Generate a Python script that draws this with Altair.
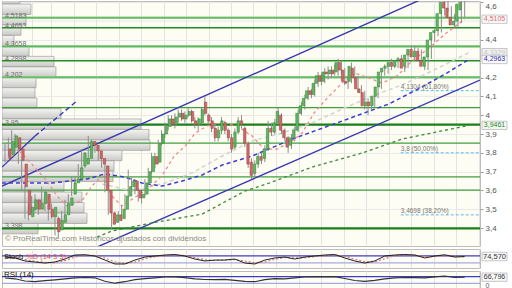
import altair as alt
import pandas as pd

# ---------------- candles ----------------
opens = [3.82,3.79,3.83,3.88,3.82,3.74,3.60,3.46,3.50,3.55,
         3.50,3.53,3.58,3.50,3.46,3.45,3.39,3.43,3.47,3.52,
         3.58,3.64,3.66,3.73,3.74,3.77,3.86,3.84,3.81,3.77,
         3.73,3.60,3.48,3.43,3.47,3.45,3.50,3.57,3.62,3.65,
         3.60,3.56,3.58,3.64,3.70,3.78,3.75,3.85,3.90,3.94,
         3.98,3.95,3.99,4.01,3.98,4.00,4.02,3.97,3.95,3.96,
         4.07,4.00,3.97,3.93,3.88,3.92,3.96,3.92,3.88,3.83,
         3.91,3.97,3.93,3.85,3.75,3.69,3.74,3.78,3.77,3.82,
         3.93,3.91,3.96,4.00,3.92,3.88,3.84,3.88,3.92,4.01,
         4.05,4.09,4.13,4.11,4.17,4.21,4.18,4.23,4.22,4.24,
         4.23,4.28,4.24,4.18,4.18,4.25,4.20,4.14,4.12,4.05,
         4.07,4.05,4.10,4.15,4.23,4.25,4.26,4.28,4.26,4.29,
         4.30,4.26,4.32,4.35,4.31,4.34,4.29,4.26,4.31,4.40,
         4.44,4.45,4.54,4.60,4.57,4.52,4.48,4.50,4.56]
closes = [3.77,3.86,3.89,3.82,3.76,3.62,3.47,3.51,3.55,3.50,
          3.53,3.59,3.50,3.46,3.51,3.38,3.44,3.47,3.53,3.56,
          3.64,3.66,3.72,3.80,3.77,3.86,3.84,3.81,3.77,3.74,
          3.60,3.48,3.42,3.47,3.44,3.50,3.57,3.62,3.65,3.60,
          3.56,3.58,3.64,3.70,3.78,3.74,3.85,3.90,3.94,3.98,
          3.95,3.99,4.01,3.98,4.00,4.02,3.97,3.95,3.98,4.03,
          4.01,3.97,3.93,3.88,3.92,3.97,3.92,3.88,3.82,3.91,
          3.97,3.95,3.85,3.74,3.68,3.74,3.78,3.76,3.82,3.93,
          3.91,3.96,4.02,3.92,3.88,3.83,3.88,3.92,4.01,4.05,
          4.09,4.13,4.11,4.17,4.21,4.18,4.23,4.22,4.24,4.22,
          4.28,4.24,4.18,4.17,4.26,4.20,4.14,4.12,4.05,4.07,
          4.05,4.10,4.15,4.23,4.25,4.26,4.28,4.26,4.29,4.30,
          4.25,4.32,4.35,4.31,4.34,4.29,4.26,4.31,4.40,4.44,
          4.45,4.54,4.60,4.57,4.52,4.48,4.50,4.59,4.60]
highs = [3.85,3.88,3.92,3.90,3.84,3.76,3.63,3.53,3.57,3.58,
         3.55,3.62,3.60,3.52,3.53,3.47,3.46,3.49,3.55,3.58,
         3.67,3.67,3.74,3.82,3.78,3.89,3.87,3.85,3.82,3.78,
         3.74,3.61,3.50,3.49,3.49,3.52,3.58,3.71,3.67,3.66,
         3.61,3.60,3.66,3.72,3.80,3.80,3.87,3.92,3.96,4.00,
         4.00,4.01,4.03,4.03,4.02,4.04,4.03,3.99,3.99,4.04,
         4.10,4.01,3.99,3.96,3.94,3.99,3.97,3.93,3.90,3.93,
         3.99,4.00,3.94,3.86,3.77,3.76,3.80,3.80,3.84,3.97,
         3.96,3.98,4.04,4.01,3.93,3.89,3.90,3.94,4.03,4.07,
         4.11,4.15,4.14,4.19,4.23,4.22,4.25,4.26,4.26,4.27,
         4.30,4.29,4.25,4.21,4.28,4.26,4.21,4.16,4.13,4.09,
         4.09,4.12,4.17,4.25,4.27,4.28,4.30,4.29,4.31,4.32,
         4.31,4.34,4.37,4.37,4.36,4.35,4.30,4.33,4.42,4.46,
         4.47,4.56,4.62,4.62,4.58,4.54,4.52,4.61,4.62]
lows = [3.75,3.78,3.81,3.80,3.74,3.60,3.45,3.44,3.48,3.49,
        3.47,3.52,3.49,3.44,3.45,3.36,3.35,3.40,3.45,3.50,
        3.57,3.60,3.64,3.72,3.72,3.76,3.82,3.80,3.76,3.72,
        3.59,3.47,3.39,3.42,3.43,3.44,3.49,3.56,3.60,3.58,
        3.54,3.53,3.57,3.63,3.69,3.72,3.74,3.84,3.88,3.92,
        3.94,3.93,3.96,3.97,3.96,3.99,3.96,3.93,3.92,3.95,
        4.00,3.95,3.91,3.86,3.86,3.90,3.90,3.86,3.80,3.82,
        3.90,3.93,3.83,3.72,3.66,3.67,3.72,3.74,3.75,3.81,
        3.89,3.90,3.95,3.90,3.86,3.80,3.82,3.86,3.91,4.00,
        4.03,4.08,4.09,4.10,4.15,4.16,4.17,4.19,4.20,4.21,
        4.21,4.22,4.16,4.14,4.17,4.18,4.12,4.10,4.03,4.00,
        4.03,4.04,4.09,4.14,4.21,4.22,4.24,4.25,4.25,4.27,
        4.23,4.25,4.31,4.29,4.30,4.28,4.24,4.24,4.30,4.39,
        4.42,4.44,4.53,4.55,4.50,4.46,4.46,4.49,4.52]

# ---------------- moving averages (index, price) ----------------
ma_pink_i = [4.2, 8.1, 12.6, 15.6, 18.6, 23.1, 26.1, 29.1, 32.1, 35.1, 39.6, 43.2, 47.1, 50.8, 54.1,
             57.1, 60.7, 65.2, 69.7, 74.2, 77.8, 81.7, 86.2, 89.2, 92.8, 96.7, 101.2, 105.1, 109.3,
             113.2, 117.7, 122.2, 127.3, 132.1, 138.1]
ma_pink_v = [3.810, 3.740, 3.650, 3.570, 3.517, 3.544, 3.623, 3.677, 3.570, 3.517, 3.570, 3.613, 3.677,
             3.783, 3.836, 3.905, 3.943, 3.959, 3.943, 3.889, 3.820, 3.820, 3.863, 3.905, 4.012, 4.091,
             4.171, 4.224, 4.198, 4.171, 4.209, 4.288, 4.357, 4.432, 4.5105]
ma_gray_i = [29.1, 38.1, 48.0, 56.2, 65.2, 74.2, 83.2, 92.2, 101.2, 110.2, 119.2, 128.2, 139.3]
ma_gray_v = [3.634, 3.597, 3.639, 3.693, 3.783, 3.863, 3.905, 3.959, 4.033, 4.102, 4.161, 4.235, 4.3329]
ma_blue_i = [-0.9, 14.1, 24.6, 30.0, 36.0, 41.1, 47.1, 53.2, 59.2, 65.2, 74.2, 87.1, 101.2, 115.3,
             125.2, 132.6, 139.3]
ma_blue_v = [3.639, 3.639, 3.661, 3.687, 3.671, 3.639, 3.623, 3.650, 3.682, 3.735, 3.783, 3.879,
             3.969, 4.060, 4.150, 4.224, 4.2963]
ma_green_i = [27.6, 32.1, 44.1, 59.2, 72.1, 79.3, 92.2, 107.2, 119.2, 139.3]
ma_green_v = [3.352, 3.384, 3.427, 3.474, 3.597, 3.639, 3.724, 3.799, 3.873, 3.9461]

# ---------------- trend lines ----------------
trend_seg = ["upper", "upper", "lower", "lower", "steep", "steep"]
trend_i = [-0.9, 125.0, 27.0, 142.6, -0.9, 9.0]
trend_p = [3.623, 4.616, 3.294, 4.187, 3.724, 3.889]
ray_i = [9.0, 21.6]
ray_p = [3.889, 4.076]

# ---------------- horizontal levels ----------------
levels_light = [4.5183, 4.3658, 4.202]
levels_dark = [4.4653, 4.2898]
levels_thick = [3.95, 3.398]
levels_mid = [4.04, 3.852, 3.672, 3.602]

# ---------------- fibonacci ----------------
fib_p = [4.1304, 3.8, 3.4698]
fib_lbl = ["4,1304 (61,80%)", "3,8 (50,00%)", "3,4698 (38,20%)"]
fib_start = 118.8
fib_end = 142.6

# ---------------- volume by price ----------------
vp_top = [4.647, 4.591, 4.535, 4.480, 4.424, 4.369, 4.313, 4.257, 4.202, 4.146, 4.091, 4.035,
          3.980, 3.924, 3.868, 3.813, 3.757, 3.702, 3.646, 3.591, 3.535, 3.479, 3.424]
vp_vol = [1.20, 1.94, 1.61, 1.27, 0.80, 1.81, 3.48, 3.61, 2.28, 2.21, 2.34, 3.95,
          9.30, 9.84, 9.91, 8.03, 7.50, 7.43, 4.15, 5.35, 5.49, 5.69, 2.41]
vp_bin = 0.0550
vp_lbl_p = [4.5183, 4.4653, 4.3658, 4.2898, 4.202, 3.95, 3.398]
vp_lbl = ["4,5183", "4,4653", "4,3658", "4,2898", "4,202", "3,95", "3,398"]

# ---------------- right-hand value boxes ----------------
box_p = [4.5105, 4.3329, 4.2963, 3.9461]
box_lbl = ["4,5105", "4,3329", "4,2963", "3,9461"]
box_txt = ["#e06a6a", "#c8c8c8", "#2a2ab8", "#2e862e"]
box_fill = ["#fbfbfb", "#f0f0f0", "#fbfbfb", "#f3f8f1"]

# ---------------- oscillators (sampled every 3 candles) ----------------
osc_i = list(range(0, 139, 3))
stoch_k = [70, 62, 36, 27, 18, 27, 53, 88, 90, 79, 44, 10, 10, 44, 70, 79, 88, 92, 79, 53, 36, 44, 44,
           53, 18, 10, 44, 62, 70, 53, 70, 79, 88, 92, 62, 36, 18, 36, 79, 88, 92, 88, 62, 79, 90, 70, 74.57]
stoch_d = [75, 68, 50, 33, 24, 22, 38, 70, 86, 84, 62, 28, 14, 26, 55, 72, 82, 88, 84, 66, 46, 40, 44,
           48, 36, 20, 28, 50, 66, 62, 64, 74, 82, 88, 76, 50, 30, 28, 56, 82, 88, 88, 74, 74, 82, 78, 73]
rsi = [62, 57, 44, 40, 46, 51, 57, 63, 65, 63, 43, 31, 40, 52, 58, 63, 68, 69, 64, 57, 53, 52, 54,
       48, 42, 40, 52, 58, 57, 63, 68, 70, 69, 70, 59, 47, 42, 48, 57, 63, 65, 64, 63, 69, 74, 65, 66.796]

# axis ticks shown (4,5 and 4,3 are hidden behind value boxes in the original)
price_ticks = [3.3, 3.4, 3.5, 3.6, 3.7, 3.8, 3.9, 4.0, 4.1, 4.2, 4.4, 4.6]
hidden_ticks = [4.3, 4.5]
grid_idx = [8.1, 13.8, 20.6, 27.3, 34.1, 40.8, 47.6, 54.4, 61.1, 67.9, 74.6, 81.4, 88.2, 94.9,
            101.7, 108.4, 115.2, 121.9, 128.7, 135.5, 142.2]
copyright = "© ProRealTime.com  Históricos ajustados con dividendos"

FONT = "Liberation Sans"
W = 478
xs = alt.Scale(domain=[-0.9, 142.6], nice=False, zero=False)
ys = alt.Scale(domain=[3.3043, 4.6074], nice=False, zero=False)

x_axis = alt.Axis(values=grid_idx, grid=True, gridColor="#e3e3e3", labels=False, ticks=False,
                  domain=False, title=None)
y_axis = alt.Axis(orient="right", values=price_ticks, grid=True, gridColor="#e9e9e9",
                  labelExpr="replace(toString(round(datum.value*10)/10), '.', ',')",
                  tickSize=3, tickColor="#999", labelFontSize=8, labelColor="#555", labelFont=FONT,
                  labelPadding=2, labelFlush=3, domain=False, title=None)


def X(f):
    return alt.X(f"{f}:Q", scale=xs, axis=None)


def Y(f):
    return alt.Y(f"{f}:Q", scale=ys, axis=y_axis)


cdf = pd.DataFrame({"i": list(range(len(opens))), "o": opens, "h": highs, "l": lows, "c": closes})
cdf["dir"] = ["up" if c >= o else "down" for o, c in zip(opens, closes)]

# volume profile (own x scale)
vdf = pd.DataFrame({"top": vp_top, "vol": vp_vol})
vdf["bot"] = vdf["top"] - vp_bin
grad = alt.LinearGradient(gradient="linear", x1=0, x2=0, y1=0, y2=1,
                          stops=[alt.GradientStop(color="#f4f4f2", offset=0),
                                 alt.GradientStop(color="#c9c9c6", offset=1)])
vp = alt.Chart(vdf).mark_bar(fill=grad, stroke="#9d9d9d", strokeWidth=0.7, clip=True).encode(
    x=alt.X("vol:Q", scale=alt.Scale(domain=[0, 32], nice=False, zero=True), axis=None),
    x2=alt.datum(0),
    y=Y("top"), y2="bot")

vlbl = alt.Chart(pd.DataFrame({"p": vp_lbl_p, "t": vp_lbl})).mark_text(
    align="left", baseline="bottom", dy=1, fontSize=7, font=FONT, color="#707070").encode(
    x=alt.value(3), y=Y("p"), text="t:N")

grid_layer = alt.Chart(cdf).mark_rule(opacity=0).encode(
    x=alt.X("i:Q", scale=xs, axis=x_axis), y=Y("c"))
hgrid = alt.Chart(pd.DataFrame({"p": hidden_ticks})).mark_rule(color="#e9e9e9", strokeWidth=1).encode(
    y=Y("p"))


def hlines(vals, color, width):
    return alt.Chart(pd.DataFrame({"p": vals})).mark_rule(color=color, strokeWidth=width).encode(y=Y("p"))


lv = (hlines(levels_light, "#8fd08f", 2.6) + hlines(levels_light, "#5cb35c", 1.0) +
      hlines(levels_dark, "#238c23", 1.5) + hlines(levels_thick, "#1a7f1a", 2.2) +
      hlines(levels_mid, "#3e9f3e", 1.3))

fdf = pd.DataFrame({"p": fib_p, "t": fib_lbl, "a": [fib_start] * 3, "b": [fib_end] * 3})
fib_rule = alt.Chart(fdf).mark_rule(color="#62b8ea", strokeDash=[3, 2], strokeWidth=1).encode(
    x=X("a"), x2="b", y=Y("p"))
fib_text = alt.Chart(fdf).mark_text(align="left", baseline="bottom", dy=-1, fontSize=6.5,
                                    font=FONT, color="#777").encode(x=X("a"), y=Y("p"), text="t:N")

tdf = pd.DataFrame({"seg": trend_seg, "i": trend_i, "p": trend_p})
trend = alt.Chart(tdf).mark_line(color="#3838b0", strokeWidth=1.4, clip=True).encode(
    x=X("i"), y=Y("p"), detail="seg:N")
ray = alt.Chart(pd.DataFrame({"i": ray_i, "p": ray_p})).mark_line(
    color="#3838b0", strokeWidth=1.4, strokeDash=[5, 3], clip=True).encode(x=X("i"), y=Y("p"))


def ma(ii, vv, color, dash, width):
    return alt.Chart(pd.DataFrame({"i": ii, "p": vv})).mark_line(
        color=color, strokeDash=dash, strokeWidth=width, clip=True).encode(x=X("i"), y=Y("p"))


mas = (ma(ma_green_i, ma_green_v, "#3b8a3b", [3, 3], 1.3) +
       ma(ma_gray_i, ma_gray_v, "#d2d2d2", [4, 3], 1.5) +
       ma(ma_blue_i, ma_blue_v, "#3c3cd0", [4, 3], 1.5) +
       ma(ma_pink_i, ma_pink_v, "#f08a8a", [3, 3], 1.3))

wick = alt.Chart(cdf).mark_rule(color="#8c8c8c", strokeWidth=1, clip=True).encode(
    x=X("i"), y=Y("l"), y2="h")
body = alt.Chart(cdf).mark_bar(size=2.4, strokeWidth=0.5, clip=True).encode(
    x=X("i"), y=Y("o"), y2="c",
    color=alt.Color("dir:N", scale=alt.Scale(domain=["up", "down"], range=["#62b862", "#d06a6a"]), legend=None),
    stroke=alt.Stroke("dir:N", scale=alt.Scale(domain=["up", "down"], range=["#2f7f2f", "#983a3a"]), legend=None))

bdf = pd.DataFrame({"p": box_p, "t": box_lbl, "tc": box_txt, "fc": box_fill})
bdf["lo"] = bdf["p"] - 0.022
bdf["hi"] = bdf["p"] + 0.022
box_r = alt.Chart(bdf).mark_rect(stroke="#b0b0b0", strokeWidth=0.7).encode(
    x=alt.value(480), x2=alt.value(505), y=Y("lo"), y2="hi", fill=alt.Fill("fc:N", scale=None))
box_t = alt.Chart(bdf).mark_text(fontSize=7, font=FONT, align="center", baseline="middle").encode(
    x=alt.value(492.5), y=Y("p"), text="t:N", color=alt.Color("tc:N", scale=None))

copy_t = alt.Chart(pd.DataFrame({"t": [copyright]})).mark_text(
    align="left", baseline="middle", fontSize=8, font=FONT, color="#8a8a8a").encode(
    x=alt.value(3), y=alt.value(238), text="t:N")

main = alt.layer(grid_layer, hgrid, vp, lv, fib_rule, trend, ray, mas, wick, body, vlbl, fib_text,
                 copy_t, box_r, box_t).resolve_scale(x="independent").properties(width=W, height=245)

# ---------------- stochastic panel ----------------
sx_axis = alt.Axis(values=grid_idx, grid=True, gridColor="#e3e3e3", labels=False, ticks=False,
                   domain=False, title=None)
s_scale = alt.Scale(domain=[-25, 140], nice=False, zero=False)
sdf = pd.DataFrame({"i": osc_i, "k": stoch_k, "d": stoch_d})
s_lines = alt.Chart(pd.DataFrame({"v": [80, 20], "c": ["#3c3cc8", "#a8a8e8"]})).mark_rule(strokeWidth=1.3).encode(
    y=alt.Y("v:Q", scale=s_scale, axis=None), color=alt.Color("c:N", scale=None))
s_base = alt.Chart(sdf).mark_line(color="#d77", strokeDash=[2, 2], strokeWidth=1.2).encode(
    x=alt.X("i:Q", scale=xs, axis=sx_axis), y=alt.Y("d:Q", scale=s_scale, axis=None))
s_k = alt.Chart(sdf).mark_line(color="#222", strokeWidth=1).encode(
    x=alt.X("i:Q", scale=xs, axis=sx_axis), y=alt.Y("k:Q", scale=s_scale, axis=None))
s_t1 = alt.Chart(pd.DataFrame({"t": ["Stoch"]})).mark_text(
    align="left", baseline="middle", fontSize=7.5, font=FONT, color="#111").encode(
    x=alt.value(2), y=alt.value(8), text="t:N")
s_t2 = alt.Chart(pd.DataFrame({"t": ["%D (14 3 3)"]})).mark_text(
    align="left", baseline="middle", fontSize=7.5, font=FONT, color="#e05050").encode(
    x=alt.value(24), y=alt.value(8), text="t:N")
sbox = pd.DataFrame({"v": [74.57], "t": ["74,570"]})
sbox["lo"] = sbox["v"] - 37
sbox["hi"] = sbox["v"] + 37
s_br = alt.Chart(sbox).mark_rect(fill="#f8f8f8", stroke="#b0b0b0", strokeWidth=0.7).encode(
    x=alt.value(480), x2=alt.value(505), y=alt.Y("lo:Q", scale=s_scale, axis=None), y2="hi")
s_bt = alt.Chart(sbox).mark_text(fontSize=7.5, font=FONT, color="#333").encode(
    x=alt.value(492.5), y=alt.Y("v:Q", scale=s_scale, axis=None), text="t:N")
stoch = alt.layer(s_lines, s_base, s_k, s_t1, s_t2, s_br, s_bt).properties(width=W, height=19)

# ---------------- RSI panel ----------------
r_scale = alt.Scale(domain=[-16, 104], nice=False, zero=False)
r_axis = alt.Axis(orient="right", values=[0], tickSize=3, tickColor="#999", labelFontSize=7,
                  labelColor="#555", labelFont=FONT, labelPadding=2, labelBaseline="bottom",
                  labelOffset=0, domain=False, grid=False, title=None)
rdf = pd.DataFrame({"i": osc_i, "r": rsi})
r_lines = alt.Chart(pd.DataFrame({"v": [70, 30], "c": ["#3c3cc8", "#a8a8e8"]})).mark_rule(strokeWidth=1.3).encode(
    y=alt.Y("v:Q", scale=r_scale, axis=r_axis), color=alt.Color("c:N", scale=None))
r_line = alt.Chart(rdf).mark_line(color="#333", strokeWidth=1.1).encode(
    x=alt.X("i:Q", scale=xs, axis=sx_axis), y=alt.Y("r:Q", scale=r_scale, axis=r_axis))
r_t = alt.Chart(pd.DataFrame({"t": ["RSI (14)"]})).mark_text(
    align="left", baseline="middle", fontSize=8, font=FONT, color="#111").encode(
    x=alt.value(2), y=alt.value(4), text="t:N")
rbox = pd.DataFrame({"v": [66.796], "t": ["66,796"]})
rbox["lo"] = rbox["v"] - 25
rbox["hi"] = rbox["v"] + 25
r_br = alt.Chart(rbox).mark_rect(fill="#f8f8f8", stroke="#b0b0b0", strokeWidth=0.7).encode(
    x=alt.value(480), x2=alt.value(505), y=alt.Y("lo:Q", scale=r_scale, axis=r_axis), y2="hi")
r_bt = alt.Chart(rbox).mark_text(fontSize=7, font=FONT, color="#333").encode(
    x=alt.value(492.5), y=alt.Y("v:Q", scale=r_scale, axis=r_axis), text="t:N")
rsi_panel = alt.layer(r_lines, r_line, r_t, r_br, r_bt).properties(width=W, height=20)

chart = alt.vconcat(main, stoch, rsi_panel, spacing=1).properties(
    padding={"left": 0, "top": 0, "right": 0, "bottom": 0}, background="white"
).configure_view(fill="#fdfdf3", stroke="#bdbdbd", strokeWidth=1)

chart.save("out.html", embed_options={"renderer": "svg", "actions": False})
